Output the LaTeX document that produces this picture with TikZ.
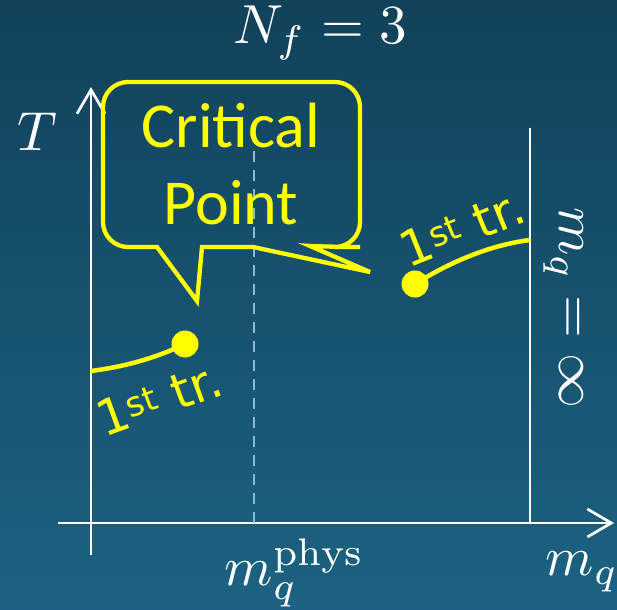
\documentclass[tikz,border=0pt]{standalone}
\usepackage{fontspec}
\newfontfamily\callfont{Carlito}
\newfontfamily\trfont{DejaVu Sans}
\usetikzlibrary{arrows.meta}
\definecolor{bgtop}{HTML}{11425A}
\definecolor{bgbot}{HTML}{1C6282}
\definecolor{hl}{HTML}{FFFF00}
\definecolor{dashc}{HTML}{90B6DA}
\begin{document}
\begin{tikzpicture}[x=1pt,y=-1pt,
  axis/.style={white,line width=2.7pt},
  axtip/.style={-{Straight Barb[length=24pt,width=28pt,line width=2.7pt]}},
  curveline/.style={hl,line width=4.5pt},
  dotmark/.style={circle,fill=hl,inner sep=0pt,minimum size=27pt},
  callout/.style={hl,line width=4.3pt,line join=miter},
  mathlbl/.style={white,scale=5.5,inner sep=0pt},
  trlbl/.style={hl,font=\trfont\fontsize{49}{52}\selectfont,inner sep=0pt},
  calltext/.style={hl,font=\callfont\fontsize{64}{77}\selectfont,align=center,inner sep=0pt}]
\shade[top color=bgtop,bottom color=bgbot] (0,0) rectangle (617,609);
\useasboundingbox (0,0) rectangle (617,609);
% axes
\coordinate (vbot) at (91,555);
\coordinate (vtop) at (91,87);
\coordinate (hleft) at (58,523);
\coordinate (hright) at (614,523);
\draw[axis,axtip] (vbot) -- (vtop);
\draw[axis,axtip] (hleft) -- (hright);
% infinity line
\coordinate (inftop) at (530,128);
\coordinate (infbot) at (530,523);
\draw[white,line width=2.2pt] (inftop) -- (infbot);
% physical mass dashed line
\coordinate (phystop) at (254,145);
\coordinate (physbot) at (254,523);
\draw[dashc,line width=2.3pt,dash pattern=on 11pt off 8pt] (physbot) -- (phystop);
% labels
\node[mathlbl] (nf) at (320,33) {$N_f=3$};
\node[mathlbl] (tl) at (37,132) {$T$};
\node[mathlbl] (mphys) at (295,573) {$m_q^{\mathrm{phys}}$};
\node[mathlbl] (mq) at (582,572) {$m_q$};
\node[mathlbl,rotate=-90] (minf) at (563,308) {$m_q=\infty$};
% first order lines
\node[dotmark] (cpl) at (185,344) {};
\node[dotmark] (cpr) at (415,284) {};
\coordinate (lstart) at (91,371);
\coordinate (rend) at (530,240);
\draw[curveline] (lstart) .. controls (130,366) and (160,356) .. (cpl.center);
\draw[curveline] (cpr.center) .. controls (450,262) and (490,245) .. (rend);
\node[trlbl,rotate=20] (trl) at (159,399) {1\textsuperscript{st} tr.};
\node[trlbl,rotate=22] (trr) at (462,228) {1\textsuperscript{st} tr.};
% callout
\draw[callout] (157,247) -- (130,247) [rounded corners=25pt] -- (103,247) -- (103,82) -- (360,82) -- (360,247) -- (335,247) [sharp corners] -- (310,246) -- (370,272) -- (253,247) -- (202,247) -- (197,301) -- cycle;
\node[calltext] (cptext) at (231,164) {Critical\\Point};
\end{tikzpicture}
\end{document}
